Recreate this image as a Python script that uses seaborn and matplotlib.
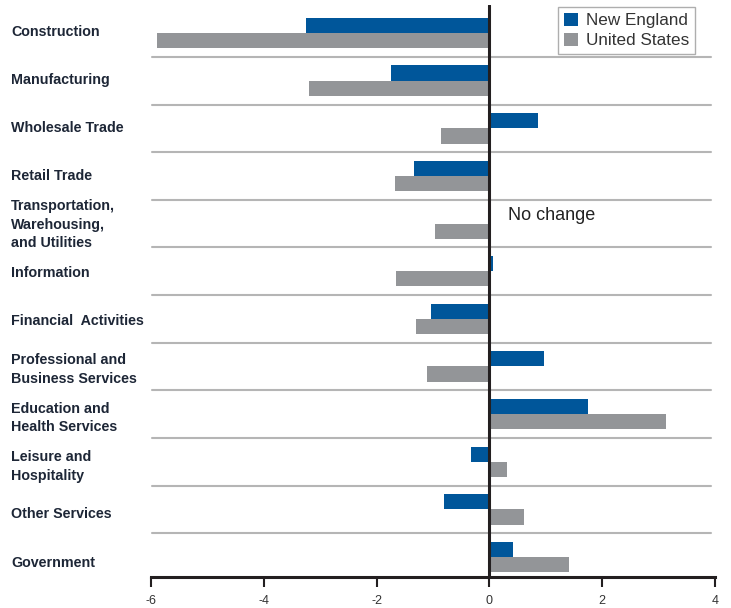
import matplotlib
matplotlib.use("Agg")
import matplotlib.pyplot as plt
import seaborn as sns
import pandas as pd
from matplotlib.patches import Patch

categories = [
    "Construction", "Manufacturing", "Wholesale Trade", "Retail Trade",
    "Transportation,\nWarehousing,\nand Utilities", "Information",
    "Financial  Activities", "Professional and\nBusiness Services",
    "Education and\nHealth Services", "Leisure and\nHospitality",
    "Other Services", "Government",
]
new_england = [-3.26, -1.75, 0.87, -1.33, 0.0, 0.07, -1.04, 0.96, 1.75, -0.32, -0.80, 0.42]
united_states = [-5.90, -3.20, -0.85, -1.68, -0.96, -1.65, -1.31, -1.10, 3.13, 0.32, 0.62, 1.42]
series_names = ["New England", "United States"]
xticks = [-6, -4, -2, 0, 2, 4]
no_change_label = "No change"

colors = {"New England": "#00569a", "United States": "#939598"}

df = pd.DataFrame({
    "Category": categories * 2,
    "Value": new_england + united_states,
    "Region": [series_names[0]] * len(categories) + [series_names[1]] * len(categories),
})

sns.set_theme(style="white")
plt.rcParams["font.family"] = ["Liberation Sans", "DejaVu Sans"]

fig = plt.figure(figsize=(7.31, 6.08), dpi=100)
W, H = 731, 608
ax = fig.add_axes([151 / W, 1 - 577 / H, (715 - 151) / W, (577 - 5) / H])

sns.barplot(data=df, y="Category", x="Value", hue="Region", order=categories,
            hue_order=series_names, palette=colors, orient="h", width=0.64,
            dodge=True, ax=ax, legend=False, saturation=1, zorder=2,
            linewidth=0, edgecolor="none")

ax.set_xlim(-6, 4)
ax.set_ylim(11.42, -0.59)

for i in range(len(categories) - 1):
    ax.axhline(i + 0.5, xmin=0.002, xmax=0.993, color="#b5b5b5", lw=1.5, zorder=1)

ax.axvline(0, color="#231f20", lw=2.2, zorder=3)

for s in ["top", "right", "left"]:
    ax.spines[s].set_visible(False)
ax.spines["bottom"].set_color("#231f20")
ax.spines["bottom"].set_linewidth(2.2)
ax.set_xticks(xticks)
ax.set_xticklabels([str(t) for t in xticks], fontsize=9, color="#333333")
ax.tick_params(axis="x", direction="out", length=7, width=1.5, color="#231f20", pad=6, bottom=True)
ax.set_yticks([])
ax.set_xlabel("")
ax.set_ylabel("")

# category labels on the left (pixel layout)
for i, cat in enumerate(categories):
    ypix = 31.5 + 48.3 * i
    fig.text(11 / W, 1 - ypix / H, cat, ha="left", va="center", fontsize=10.3,
             fontweight="bold", color="#1d2636", linespacing=1.42)

ax.text(0.33, 3.84, no_change_label, ha="left", va="center", fontsize=13, color="#222222")

handles = [Patch(facecolor=colors[n], edgecolor="none") for n in series_names]
leg = fig.legend(handles, series_names, loc="upper left",
                 bbox_to_anchor=(558 / W, 1 - 7 / H), fontsize=12.3,
                 frameon=True, fancybox=False, edgecolor="#9a9a9a",
                 handlelength=0.8, handleheight=0.8, handletextpad=0.5,
                 borderpad=0.35, labelspacing=0.25, borderaxespad=0)
leg.get_frame().set_linewidth(1.0)
for t in leg.get_texts():
    t.set_color("#333333")

fig.savefig("out.png", dpi=100)
